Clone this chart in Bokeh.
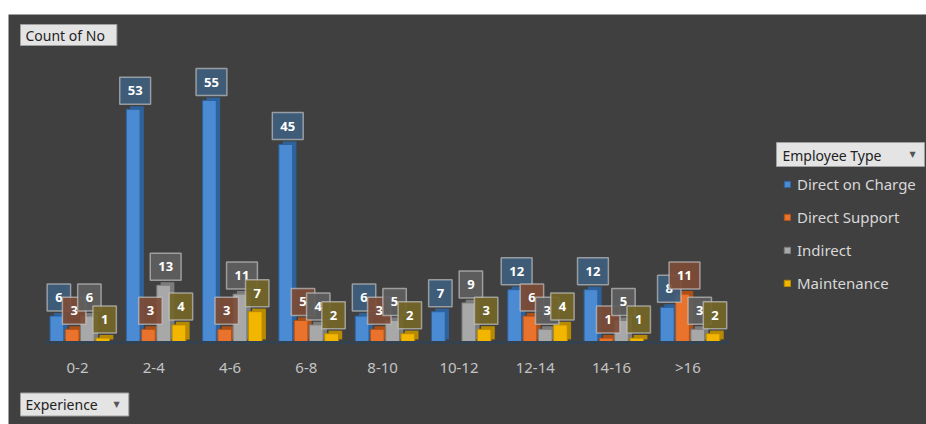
import math
from bokeh.plotting import figure
from bokeh.models import (ColumnDataSource, Range1d, Label, Legend, LegendItem,
                          FixedTicker)
from bokeh.transform import dodge
from bokeh.core.properties import value
from bokeh.embed import file_html
from bokeh.resources import INLINE

experience = ["0-2", "2-4", "4-6", "6-8", "8-10", "10-12", "12-14", "14-16", ">16"]
direct_on_charge = [6, 53, 55, 45, 6, 7, 12, 12, 8]
direct_support = [3, 3, 3, 5, 3, None, 6, 1, 11]
indirect = [6, 13, 11, 4, 5, 9, 3, 5, 3]
maintenance = [1, 4, 7, 2, 2, 3, 4, 1, 2]
series_names = ["Direct on Charge", "Direct Support", "Indirect", "Maintenance"]

series_values = [direct_on_charge, direct_support, indirect, maintenance]
keys = ["doc", "ds", "ind", "mnt"]
front_colors = ["#4a8bd3", "#e9722c", "#a8a8a8", "#f2b600"]
side_colors = ["#2d629c", "#ad5018", "#7c7c7c", "#b88a00"]
label_fills = ["#3e5d7d", "#7d4c37", "#5e5e5e", "#736628"]
offsets = [-0.27, -0.07, 0.13, 0.33]
BG = "#404040"

positions = list(range(len(experience)))
data = {"pos": positions, "exp": experience}
for k, vals in zip(keys, series_values):
    data[k] = [float("nan") if v is None else float(v) for v in vals]
    data[k + "_lbl"] = ["" if v is None else str(v) for v in vals]
src = ColumnDataSource(data)

p = figure(x_range=Range1d(-0.904, 11.128), y_range=Range1d(-18.64, 74.55),
           width=918, height=410, output_backend="svg", toolbar_location=None,
           min_border_left=0, min_border_right=0, min_border_top=0, min_border_bottom=0)
p.margin = (14, 0, 0, 8)
p.background_fill_color = BG
p.border_fill_color = BG
p.outline_line_color = None
p.grid.visible = False
p.yaxis.visible = False
p.xaxis.fixed_location = 0
p.xaxis.bounds = (-0.45, 8.55)
p.xaxis.ticker = FixedTicker(ticks=positions)
p.xaxis.major_label_overrides = {i: e for i, e in zip(positions, experience)}
p.xaxis.axis_line_color = "#34414f"
p.xaxis.axis_line_width = 3
p.xaxis.major_tick_line_color = None
p.xaxis.minor_tick_line_color = None
p.xaxis.major_label_text_color = "#c4c4c4"
p.xaxis.major_label_text_font = "Noto Sans"
p.xaxis.major_label_text_font_size = "15px"
p.xaxis.major_label_standoff = 9

front_renderers = []
for k, off, fc, sc in zip(keys, offsets, front_colors, side_colors):
    p.vbar(x=dodge("pos", off + 0.05), top=dodge(k, 0.7), bottom=0.7,
           width=0.18, source=src, fill_color=sc, line_color=None)
    r = p.vbar(x=dodge("pos", off), top=k, bottom=0,
               width=0.18, source=src, fill_color=fc, line_color=sc, line_width=1)
    front_renderers.append(r)

for k, off, lf in zip(keys, offsets, label_fills):
    p.text(x=dodge("pos", off), y=k, text=k + "_lbl", source=src,
           x_offset=2, y_offset=-5, text_align="center", text_baseline="bottom",
           text_color="white", text_font=value("Open Sans"), text_font_style="bold",
           text_font_size="13px", background_fill_color=lf, background_fill_alpha=0.92,
           border_line_color="#c8c8c8", border_line_alpha=0.65, border_line_width=1.5,
           padding=dict(left=8, right=8, top=9, bottom=9))

legend = Legend(items=[LegendItem(label=n, renderers=[r]) for n, r in zip(series_names, front_renderers)],
                location=(775, 131), orientation="vertical", padding=0, margin=0,
                spacing=13, label_height=20, glyph_width=8, glyph_height=8, label_standoff=6,
                background_fill_alpha=0, border_line_color=None,
                label_text_color="#d8d8d8", label_text_font="Noto Sans", label_text_font_size="15px")
p.add_layout(legend, "center")

btn = dict(x_units="screen", y_units="screen", text_color="#222222", text_font="Noto Sans",
           text_font_size="14px", text_baseline="middle", text_align="left",
           background_fill_color="#e4e4e4", border_line_color="#a0a0a0", border_line_width=1)
p.add_layout(Label(x=12, y=389.5, text="Count of No", padding=dict(left=5, right=12, top=1, bottom=1), **btn))
p.add_layout(Label(x=12, y=20, text="Experience", padding=dict(left=5, right=31, top=2, bottom=2), **btn))
p.add_layout(Label(x=768, y=270, text="Employee Type", padding=dict(left=6, right=43, top=3, bottom=2), **btn))
arrow = dict(x_units="screen", y_units="screen", text_color="#555555", text_font="DejaVu Sans",
             text_font_size="8px", text_baseline="middle", text_align="center")
p.add_layout(Label(x=108, y=20, text="▼", **arrow))
p.add_layout(Label(x=904, y=270, text="▼", **arrow))

open("out.html", "w").write(file_html(p, INLINE))
